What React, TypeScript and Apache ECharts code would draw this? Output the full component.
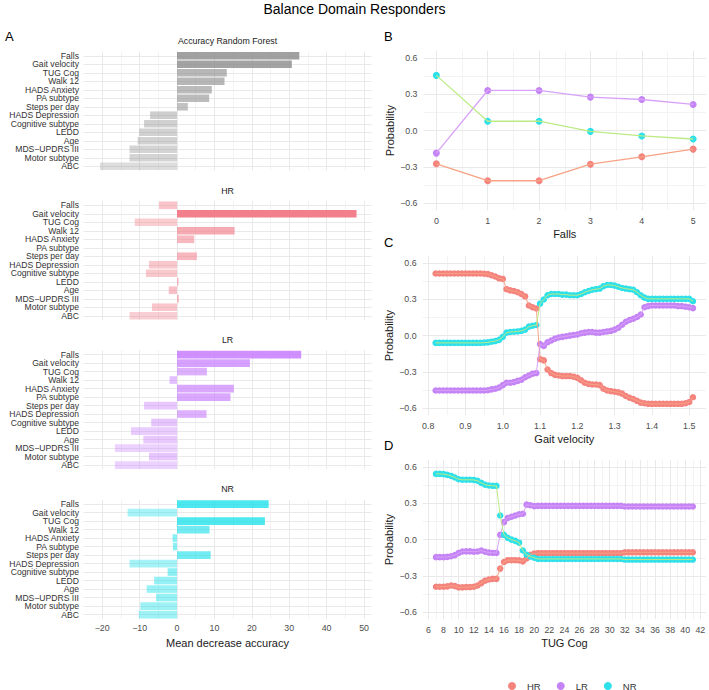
import React, { useEffect, useRef } from 'react';
import * as echarts from 'echarts';

// ---------- Panel A data ----------
const categories = ['Falls', 'Gait velocity', 'TUG Cog', 'Walk 12', 'HADS Anxiety', 'PA subtype', 'Steps per day', 'HADS Depression', 'Cognitive subtype', 'LEDD', 'Age', 'MDS\u2212UPDRS III', 'Motor subtype', 'ABC'];
const rfAccuracy = [32.7, 30.7, 13.3, 12.7, 9.3, 8.6, 2.9, -7.2, -8.8, -10.1, -10.5, -12.7, -12.7, -20.6];
const hrAccuracy = [-4.8, 48.0, -11.3, 15.4, 4.6, 0, 5.3, -7.5, -8.3, 0.4, -2.2, 0.5, -6.7, -12.7];
const lrAccuracy = [33.2, 19.5, 8.0, -2.0, 15.2, 14.3, -8.8, 7.9, -6.9, -12.3, -9.0, -16.6, -7.5, -16.6];
const nrAccuracy = [24.5, -13.2, 23.5, 8.7, -1.2, -1.1, 9.0, -12.7, -2.5, -6.1, -8.1, -5.6, -9.8, -10.2];
const facetTitles = ['Accuracy Random Forest', 'HR', 'LR', 'NR'];

// ---------- Panel B data (Falls) ----------
const fallsX = [0, 1, 2, 3, 4, 5];
const fallsHR = [-0.275, -0.415, -0.415, -0.278, -0.217, -0.153];
const fallsLR = [-0.186, 0.333, 0.333, 0.278, 0.258, 0.217];
const fallsNR = [0.458, 0.078, 0.078, -0.006, -0.044, -0.069];

// ---------- Panel C data (Gait velocity) ----------
const gaitX = [0.82, 0.83, 0.84, 0.85, 0.86, 0.87, 0.88, 0.89, 0.90, 0.91, 0.92, 0.93, 0.94, 0.95, 0.96, 0.97, 0.98, 0.99, 1.00, 1.01, 1.02, 1.03, 1.04, 1.05, 1.06, 1.07, 1.08, 1.09, 1.10, 1.11, 1.12, 1.13, 1.14, 1.15, 1.16, 1.17, 1.18, 1.19, 1.20, 1.21, 1.22, 1.23, 1.24, 1.25, 1.26, 1.27, 1.28, 1.29, 1.30, 1.31, 1.32, 1.33, 1.34, 1.35, 1.36, 1.37, 1.38, 1.39, 1.40, 1.41, 1.42, 1.43, 1.44, 1.45, 1.46, 1.47, 1.48, 1.49, 1.50, 1.51];
const gaitHR = [0.515, 0.515, 0.515, 0.515, 0.515, 0.515, 0.515, 0.515, 0.515, 0.515, 0.515, 0.515, 0.515, 0.513, 0.51, 0.50, 0.49, 0.475, 0.47, 0.385, 0.375, 0.37, 0.36, 0.345, 0.325, 0.25, 0.235, 0.225, -0.195, -0.205, -0.28, -0.31, -0.325, -0.33, -0.335, -0.335, -0.335, -0.34, -0.35, -0.37, -0.39, -0.40, -0.405, -0.405, -0.41, -0.44, -0.455, -0.46, -0.465, -0.47, -0.48, -0.50, -0.515, -0.525, -0.54, -0.555, -0.56, -0.565, -0.565, -0.565, -0.565, -0.565, -0.565, -0.565, -0.565, -0.565, -0.565, -0.56, -0.55, -0.51];
const gaitLR = [-0.455, -0.455, -0.455, -0.455, -0.455, -0.455, -0.455, -0.455, -0.455, -0.455, -0.455, -0.455, -0.455, -0.455, -0.452, -0.445, -0.44, -0.43, -0.41, -0.39, -0.39, -0.385, -0.375, -0.365, -0.345, -0.33, -0.315, -0.31, -0.07, -0.085, -0.055, -0.04, -0.025, -0.015, -0.01, -0.005, 0.0, 0.005, 0.01, 0.02, 0.025, 0.03, 0.03, 0.025, 0.025, 0.03, 0.035, 0.04, 0.05, 0.065, 0.09, 0.115, 0.13, 0.14, 0.155, 0.175, 0.235, 0.245, 0.25, 0.25, 0.25, 0.25, 0.25, 0.25, 0.25, 0.245, 0.245, 0.24, 0.235, 0.228];
const gaitNR = [-0.06, -0.06, -0.06, -0.06, -0.06, -0.06, -0.06, -0.06, -0.06, -0.06, -0.06, -0.06, -0.06, -0.058, -0.056, -0.05, -0.045, -0.035, -0.01, 0.025, 0.03, 0.032, 0.035, 0.04, 0.05, 0.075, 0.082, 0.088, 0.265, 0.3, 0.335, 0.345, 0.345, 0.345, 0.34, 0.34, 0.335, 0.335, 0.335, 0.345, 0.36, 0.37, 0.38, 0.385, 0.39, 0.41, 0.42, 0.42, 0.415, 0.405, 0.395, 0.39, 0.385, 0.38, 0.36, 0.335, 0.315, 0.305, 0.305, 0.305, 0.305, 0.305, 0.305, 0.305, 0.305, 0.305, 0.305, 0.305, 0.305, 0.285];

// ---------- Panel D data (TUG Cog) ----------
const tugX = [7, 7.5, 8, 8.5, 9, 9.5, 10, 10.5, 11, 11.5, 12, 12.5, 13, 13.5, 14, 14.5, 15, 15.5, 16, 16.5, 17, 17.5, 18, 18.5, 19, 19.5, 20, 20.5, 21, 21.5, 22, 22.5, 23, 23.5, 24, 24.5, 25, 25.5, 26, 26.5, 27, 27.5, 28, 28.5, 29, 29.5, 30, 30.5, 31, 31.5, 32, 32.5, 33, 33.5, 34, 34.5, 35, 35.5, 36, 36.5, 37, 37.5, 38, 38.5, 39, 39.5, 40, 40.5, 41];
const tugHR = [-0.39, -0.39, -0.39, -0.387, -0.38, -0.385, -0.395, -0.395, -0.393, -0.393, -0.39, -0.38, -0.36, -0.34, -0.33, -0.325, -0.325, -0.24, -0.185, -0.17, -0.17, -0.17, -0.172, -0.18, -0.155, -0.125, -0.115, -0.112, -0.112, -0.112, -0.112, -0.112, -0.112, -0.112, -0.112, -0.112, -0.112, -0.112, -0.112, -0.112, -0.112, -0.112, -0.112, -0.112, -0.112, -0.112, -0.112, -0.112, -0.112, -0.112, -0.105, -0.105, -0.105, -0.105, -0.105, -0.105, -0.105, -0.105, -0.105, -0.105, -0.105, -0.105, -0.105, -0.105, -0.105, -0.105, -0.105, -0.105, -0.105];
const tugLR = [-0.145, -0.145, -0.145, -0.143, -0.138, -0.128, -0.11, -0.098, -0.097, -0.097, -0.1, -0.098, -0.09, -0.1, -0.107, -0.11, -0.11, 0.04, 0.145, 0.18, 0.19, 0.2, 0.21, 0.215, 0.29, 0.285, 0.278, 0.28, 0.28, 0.28, 0.28, 0.28, 0.28, 0.28, 0.28, 0.28, 0.28, 0.28, 0.28, 0.28, 0.28, 0.28, 0.28, 0.28, 0.28, 0.28, 0.28, 0.28, 0.28, 0.28, 0.275, 0.275, 0.275, 0.275, 0.275, 0.275, 0.275, 0.275, 0.275, 0.275, 0.275, 0.275, 0.275, 0.275, 0.275, 0.275, 0.275, 0.275, 0.275];
const tugNR = [0.545, 0.545, 0.543, 0.537, 0.528, 0.515, 0.5, 0.496, 0.496, 0.496, 0.495, 0.488, 0.47, 0.455, 0.449, 0.446, 0.446, 0.2, 0.04, 0.015, 0.0, -0.01, -0.025, -0.09, -0.125, -0.14, -0.15, -0.16, -0.16, -0.16, -0.16, -0.16, -0.16, -0.16, -0.16, -0.16, -0.16, -0.16, -0.16, -0.16, -0.16, -0.16, -0.16, -0.16, -0.16, -0.16, -0.16, -0.16, -0.16, -0.16, -0.165, -0.165, -0.165, -0.165, -0.165, -0.165, -0.165, -0.165, -0.165, -0.165, -0.165, -0.165, -0.165, -0.165, -0.165, -0.165, -0.165, -0.165, -0.165];

// ---------- grid-line break lists ----------
const accMajor = [-20, -10, 0, 10, 20, 30, 40, 50];
const accMinor = [-15, -5, 5, 15, 25, 35, 45];
const probMajor = [-0.6, -0.3, 0, 0.3, 0.6];
const probMinor = [-0.45, -0.15, 0.15, 0.45];
const fallsMajor = [0, 1, 2, 3, 4, 5];
const fallsMinor = [0.5, 1.5, 2.5, 3.5, 4.5];
const gaitMajor = [0.8, 0.9, 1.0, 1.1, 1.2, 1.3, 1.4, 1.5];
const gaitMinor = [0.85, 0.95, 1.05, 1.15, 1.25, 1.35, 1.45];
const tugMajor = [6, 8, 10, 12, 14, 16, 18, 20, 22, 24, 26, 28, 30, 32, 34, 36, 38, 40, 42];
const tugMinor = [7, 9, 11, 13, 15, 17, 19, 21, 23, 25, 27, 29, 31, 33, 35, 37, 39, 41];

const FONT = '"Liberation Sans", Arial, Helvetica, sans-serif';
const MAJOR = '#e9e9e9';
const MINOR = '#f3f3f3';

const groupColors: Record<string, { point: string; line: string }> = {
  HR: { point: '#F4837D', line: '#F7A285' },
  LR: { point: '#C584F5', line: '#D8A2F8' },
  NR: { point: '#2EE0EA', line: '#BCEB86' },
};
const barBase = [[143, 143, 143], [242, 128, 140], [199, 124, 255], [20, 224, 234]];

function multipleFormatter(step: number, decimals: number) {
  return (v: number) => {
    const k = Math.round(v / step);
    if (Math.abs(v - k * step) > step * 1e-3) return '';
    const val = k * step;
    const s = Math.abs(val).toFixed(decimals);
    return val < -1e-9 ? '\u2212' + s : s;
  };
}

function gridMarkLine(vMajor: any[], vMinor: any[], hMajor: any[], hMinor: any[]) {
  const data: any[] = [];
  vMinor.forEach((v) => data.push({ xAxis: v, lineStyle: { color: MINOR } }));
  hMinor.forEach((v) => data.push({ yAxis: v, lineStyle: { color: MINOR } }));
  vMajor.forEach((v) => data.push({ xAxis: v, lineStyle: { color: MAJOR } }));
  hMajor.forEach((v) => data.push({ yAxis: v, lineStyle: { color: MAJOR } }));
  return {
    silent: true,
    symbol: ['none', 'none'],
    label: { show: false },
    z: 0,
    animation: false,
    precision: 3,
    lineStyle: { type: 'solid', width: 1 },
    emphasis: { disabled: true },
    data,
  };
}

export default function App() {
  const ref = useRef<HTMLDivElement>(null);

  useEffect(() => {
    if (!ref.current) return;
    const chart = echarts.init(ref.current, undefined, { renderer: 'svg' });

    const allAcc = [...rfAccuracy, ...hrAccuracy, ...lrAccuracy, ...nrAccuracy];
    const aMin = Math.min(...allAcc);
    const aMax = Math.max(...allAcc);
    const alphaFor = (v: number) => 0.3 + 0.7 * (v - aMin) / (aMax - aMin);

    const facetValues = [rfAccuracy, hrAccuracy, lrAccuracy, nrAccuracy];
    const facetTops = [51.5, 201, 350.3, 499.8];
    const facetStripY = [41, 190.5, 340, 489];

    const grids: any[] = [];
    const xAxes: any[] = [];
    const yAxes: any[] = [];
    const series: any[] = [];
    const graphics: any[] = [];

    facetValues.forEach((vals, i) => {
      grids.push({ left: 83.5, top: facetTops[i], width: 288, height: 119 });
      const last = i === 3;
      xAxes.push({
        type: 'value', gridIndex: i, min: -25, max: 52, interval: 5,
        axisLine: { show: false }, axisTick: { show: false }, splitLine: { show: false },
        axisLabel: { show: last, color: '#4d4d4d', fontSize: 8.8, margin: 5, formatter: multipleFormatter(10, 0) },
        name: last ? 'Mean decrease accuracy' : '', nameLocation: 'middle', nameGap: 19,
        nameTextStyle: { fontSize: 11, color: '#1a1a1a', fontFamily: FONT },
      });
      yAxes.push({
        type: 'category', gridIndex: i, data: categories, inverse: true,
        axisLine: { show: false }, axisTick: { show: false }, splitLine: { show: false },
        axisLabel: { color: '#333', fontSize: 8.6, margin: 4.5, interval: 0, lineHeight: 8.5 },
      });
      const [r, g, b] = barBase[i];
      series.push({
        type: 'bar', name: facetTitles[i], xAxisIndex: i, yAxisIndex: i, z: 2,
        barWidth: '90%', silent: true,
        data: vals.map((v) => ({ value: v, itemStyle: { color: `rgba(${r},${g},${b},${alphaFor(v).toFixed(3)})` } })),
        markLine: gridMarkLine(accMajor, accMinor, categories, []),
      });
      graphics.push({
        type: 'text', x: 227.5, y: facetStripY[i],
        style: { text: facetTitles[i], fontSize: 8.8, fontFamily: FONT, fill: '#1a1a1a', align: 'center', verticalAlign: 'middle' },
      });
    });

    const probAxis = (gi: number) => ({
      type: 'value', gridIndex: gi, min: -0.66, max: 0.66, interval: 0.06,
      axisLine: { show: false }, axisTick: { show: false }, splitLine: { show: false },
      axisLabel: { color: '#4d4d4d', fontSize: 8.8, margin: 6, formatter: multipleFormatter(0.3, 1) },
      name: 'Probability', nameLocation: 'middle', nameGap: 28, nameRotate: 90,
      nameTextStyle: { fontSize: 11, color: '#1a1a1a', fontFamily: FONT },
    });
    const xAxisFor = (gi: number, min: number, max: number, interval: number, step: number, dec: number, name: string) => ({
      type: 'value', gridIndex: gi, min, max, interval,
      axisLine: { show: false }, axisTick: { show: false }, splitLine: { show: false },
      axisLabel: { color: '#4d4d4d', fontSize: 8.8, margin: 6, formatter: multipleFormatter(step, dec) },
      name, nameLocation: 'middle', nameGap: 18,
      nameTextStyle: { fontSize: 11, color: '#1a1a1a', fontFamily: FONT },
    });

    // Panel B
    grids.push({ left: 423.5, top: 51, width: 283.5, height: 159.3 });
    xAxes.push(xAxisFor(4, -0.25, 5.25, 0.25, 1, 0, 'Falls'));
    yAxes.push(probAxis(4));
    // Panel C
    grids.push({ left: 422.6, top: 256, width: 285, height: 159.3 });
    xAxes.push(xAxisFor(5, 0.785, 1.545, 0.005, 0.1, 1, 'Gait velocity'));
    yAxes.push(probAxis(5));
    // Panel D
    grids.push({ left: 422.8, top: 460, width: 284.6, height: 159.3 });
    xAxes.push(xAxisFor(6, 5.25, 42.75, 0.25, 2, 0, 'TUG Cog'));
    yAxes.push(probAxis(6));

    const panels = [
      { gi: 4, x: fallsX, ys: { HR: fallsHR, LR: fallsLR, NR: fallsNR }, vMaj: fallsMajor, vMin: fallsMinor, size: 7, lw: 1.3 },
      { gi: 5, x: gaitX, ys: { HR: gaitHR, LR: gaitLR, NR: gaitNR }, vMaj: gaitMajor, vMin: gaitMinor, size: 6.5, lw: 1 },
      { gi: 6, x: tugX, ys: { HR: tugHR, LR: tugLR, NR: tugNR }, vMaj: tugMajor, vMin: tugMinor, size: 6.5, lw: 1 },
    ];
    panels.forEach((p) => {
      (['HR', 'LR', 'NR'] as const).forEach((grp, gIdx) => {
        const data = p.x.map((x, k) => [x, (p.ys as any)[grp][k]]);
        const sc: any = {
          type: 'scatter', name: grp, xAxisIndex: p.gi, yAxisIndex: p.gi, z: 2,
          symbol: 'circle', symbolSize: p.size, silent: true,
          itemStyle: { color: groupColors[grp].point, opacity: 1 },
          data,
        };
        if (gIdx === 0) sc.markLine = gridMarkLine(p.vMaj, p.vMin, probMajor, probMinor);
        series.push(sc);
      });
      (['HR', 'LR', 'NR'] as const).forEach((grp) => {
        const data = p.x.map((x, k) => [x, (p.ys as any)[grp][k]]);
        series.push({
          type: 'line', name: grp + ' line', xAxisIndex: p.gi, yAxisIndex: p.gi, z: 3,
          showSymbol: false, symbol: 'none', silent: true,
          lineStyle: { color: groupColors[grp].line, width: p.lw },
          itemStyle: { color: groupColors[grp].line },
          data,
        });
      });
    });

    graphics.push(
      { type: 'text', x: 354.5, y: 9, style: { text: 'Balance Domain Responders', fontSize: 14, fontFamily: FONT, fill: '#000', align: 'center', verticalAlign: 'middle' } },
      { type: 'text', x: 5, y: 36, style: { text: 'A', fontSize: 13, fontFamily: FONT, fill: '#000', align: 'left', verticalAlign: 'middle' } },
      { type: 'text', x: 384, y: 36, style: { text: 'B', fontSize: 13, fontFamily: FONT, fill: '#000', align: 'left', verticalAlign: 'middle' } },
      { type: 'text', x: 384, y: 242, style: { text: 'C', fontSize: 13, fontFamily: FONT, fill: '#000', align: 'left', verticalAlign: 'middle' } },
      { type: 'text', x: 384, y: 445, style: { text: 'D', fontSize: 13, fontFamily: FONT, fill: '#000', align: 'left', verticalAlign: 'middle' } },
    );

    chart.setOption({
      animation: false,
      backgroundColor: '#ffffff',
      textStyle: { fontFamily: FONT },
      grid: grids,
      xAxis: xAxes,
      yAxis: yAxes,
      series,
      graphic: graphics,
      legend: {
        data: (['HR', 'LR', 'NR'] as const).map((n) => ({ name: n, icon: 'circle', itemStyle: { color: groupColors[n].point } })),
        left: 503, top: 676, itemWidth: 8, itemHeight: 8, itemGap: 16,
        selectedMode: false,
        textStyle: { fontSize: 9.5, color: '#333', fontFamily: FONT, padding: [0, 0, 0, 6] },
      },
    });

    return () => chart.dispose();
  }, []);

  return (
    <div
      ref={ref}
      style={{ position: 'fixed', left: 0, top: 0, width: 709, height: 690, background: '#fff' }}
    />
  );
}
